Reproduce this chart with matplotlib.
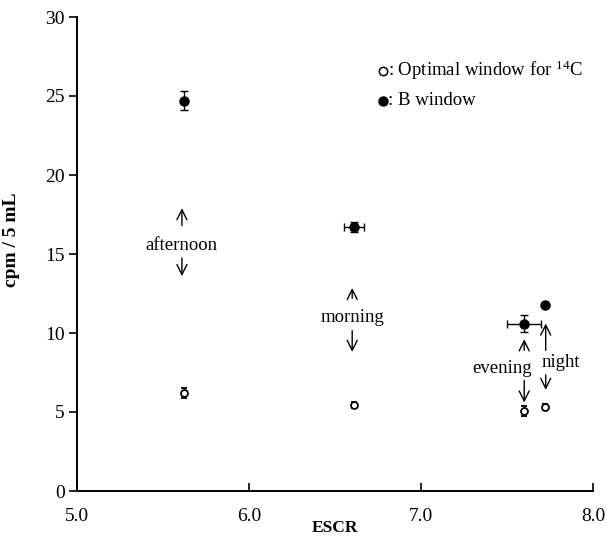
import matplotlib
matplotlib.use("Agg")
import matplotlib.pyplot as plt

plt.rcParams['font.family'] = ['Liberation Serif', 'DejaVu Serif']
plt.rcParams['mathtext.fontset'] = 'custom'
plt.rcParams['mathtext.rm'] = 'Liberation Serif'

# Data
periods = ["afternoon", "morning", "evening", "night"]
escr = [5.62, 6.61, 7.60, 7.72]
escr_err = [0.0, 0.06, 0.10, 0.0]
b_window = [24.7, 16.7, 10.6, 11.8]
b_err = [0.6, 0.3, 0.55, 0.0]
optimal = [6.2, 5.45, 5.05, 5.3]
optimal_err = [0.3, 0.2, 0.3, 0.2]

x_ticks = [5.0, 6.0, 7.0, 8.0]
y_ticks = [0, 5, 10, 15, 20, 25, 30]

fig = plt.figure(figsize=(6.07, 5.41), dpi=100)
ax = fig.add_axes([77/607, 1-491/541, (593-77)/607, (491-17)/541])

ax.errorbar(escr, b_window, yerr=b_err, xerr=escr_err, fmt='o', color='black',
            mfc='black', mec='black', ms=6.5, capsize=3, elinewidth=1, capthick=1)
ax.errorbar(escr, optimal, yerr=optimal_err, fmt='o', color='black',
            mfc='white', mec='black', mew=1.3, ms=5, capsize=2.5, elinewidth=1, capthick=1)

ax.set_xlim(5.0, 8.0)
ax.set_ylim(0, 30)
ax.set_xticks(x_ticks)
ax.set_xticklabels([f"{v:.1f}" for v in x_ticks])
ax.set_yticks(y_ticks)
ax.spines['top'].set_visible(False)
ax.spines['right'].set_visible(False)
for s in ['left', 'bottom']:
    ax.spines[s].set_linewidth(1.4)
ax.tick_params(axis='y', direction='out', length=6, width=1.2, labelsize=14, pad=3)
ax.tick_params(axis='x', direction='in', length=6, width=1.2, labelsize=14, pad=12)

ax.set_xlabel("ESCR", fontsize=12.5, fontweight='bold')
ax.set_ylabel("cpm / 5 mL", fontsize=14, fontweight='bold')
ax.yaxis.set_label_coords(-0.11, 0.53)
ax.xaxis.set_label_coords(0.5, -0.062)

arrow = dict(arrowstyle='->', lw=1.0, color='black', shrinkA=0, shrinkB=0, mutation_scale=18)
fs = 13.5

def label_with_arrows(x, xt, yt, up, down, text):
    ax.annotate("", xy=(x, up[1]), xytext=(x, up[0]), arrowprops=arrow)
    ax.annotate("", xy=(x, down[1]), xytext=(x, down[0]), arrowprops=arrow)
    ax.text(xt, yt, text, fontsize=fs, ha='center', va='center')

label_with_arrows(5.61, 5.61, 15.55, (16.8, 17.9), (14.75, 13.6), "afternoon")
label_with_arrows(6.60, 6.60, 10.95, (12.2, 12.85), (10.15, 8.8), "morning")
label_with_arrows(7.60, 7.47, 7.75, (8.9, 9.6), (7.0, 5.6), "evening")
label_with_arrows(7.725, 7.81, 8.15, (8.9, 10.6), (7.35, 6.4), "night")

# Legend drawn as text with markers
ax.plot([0.593], [0.887], 'o', transform=ax.transAxes, mfc='white', mec='black', mew=1.1, ms=6, clip_on=False)
ax.text(0.602, 0.887, r": Optimal window for $\mathregular{^{14}}$C", transform=ax.transAxes,
        fontsize=fs, va='center', ha='left')
ax.plot([0.593], [0.823], 'o', transform=ax.transAxes, color='black', ms=6.5, clip_on=False)
ax.text(0.602, 0.823, ": B window", transform=ax.transAxes, fontsize=fs, va='center', ha='left')

fig.savefig("out.png", dpi=100)
